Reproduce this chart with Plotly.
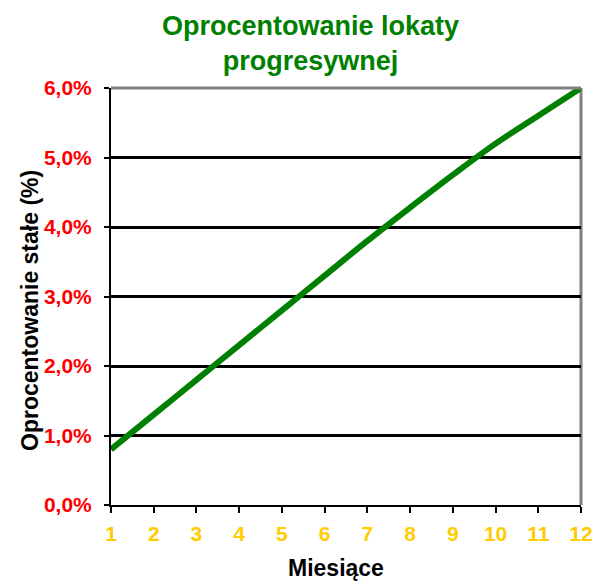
import plotly.graph_objects as go

months = [1, 2, 3, 4, 5, 6, 7, 8, 9, 10, 11, 12]
rates = [0.8, 1.3, 1.8, 2.3, 2.8, 3.3, 3.8, 4.28, 4.75, 5.2, 5.6, 6.0]
y_ticks = [0, 1, 2, 3, 4, 5, 6]
y_labels = ["0,0%", "1,0%", "2,0%", "3,0%", "4,0%", "5,0%", "6,0%"]
x_labels = [str(m) for m in months]

FONT = "Liberation Sans, Arial, sans-serif"

fig = go.Figure()
fig.add_trace(go.Scatter(x=months, y=rates, mode="lines",
                         line=dict(color="#008000", width=6, shape="spline", smoothing=1.0),
                         showlegend=False))

fig.update_layout(
    width=595, height=585,
    margin=dict(l=111, r=14, t=88, b=80, autoexpand=False),
    paper_bgcolor="white", plot_bgcolor="white",
    xaxis=dict(range=[1, 12], tickvals=months, ticktext=x_labels,
               showgrid=False, zeroline=False, automargin=False,
               showline=True, linecolor="black", linewidth=2,
               ticks="outside", ticklen=6, tickwidth=2, tickcolor="black",
               ticklabeloverflow="allow", ticklabelstandoff=3,
               tickfont=dict(family=FONT, size=21, color="#FFCC00", weight="bold")),
    yaxis=dict(range=[0, 6], tickvals=y_ticks, ticktext=y_labels,
               showgrid=True, gridcolor="black", gridwidth=2.5, zeroline=False,
               automargin=False,
               showline=True, linecolor="black", linewidth=2,
               ticks="outside", ticklen=5, tickwidth=2, tickcolor="black",
               ticklabelstandoff=8,
               tickfont=dict(family=FONT, size=21, color="#FF0000", weight="bold")),
    annotations=[
        dict(text="<b>Oprocentowanie lokaty<br>progresywnej</b>", xref="paper", yref="paper",
             x=(310 - 111) / 470, y=1 + (88 - 44) / 417, xanchor="center", yanchor="middle",
             showarrow=False, font=dict(family=FONT, size=27, color="#008000")),
        dict(text="<b>Miesiące</b>", xref="paper", yref="paper",
             x=(336 - 111) / 470, y=-(568 - 505) / 417, xanchor="center", yanchor="middle",
             showarrow=False, font=dict(family=FONT, size=23, color="black")),
        dict(text="<b>Oprocentowanie stałe (%)</b>", xref="paper", yref="paper",
             x=-(111 - 30) / 470, y=1 - (311 - 88) / 417, xanchor="center", yanchor="middle",
             showarrow=False, textangle=-90, font=dict(family=FONT, size=23, color="black")),
    ],
    shapes=[
        dict(type="line", xref="paper", yref="paper", x0=0, x1=1, y0=1, y1=1,
             line=dict(color="#808080", width=3), layer="above"),
        dict(type="line", xref="paper", yref="paper", x0=1, x1=1, y0=0, y1=1,
             line=dict(color="#808080", width=3), layer="below"),
    ],
)

fig.write_html("out.html", config={"displayModeBar": False},
               post_script="document.body.style.margin='0';document.body.style.overflow='hidden';")
